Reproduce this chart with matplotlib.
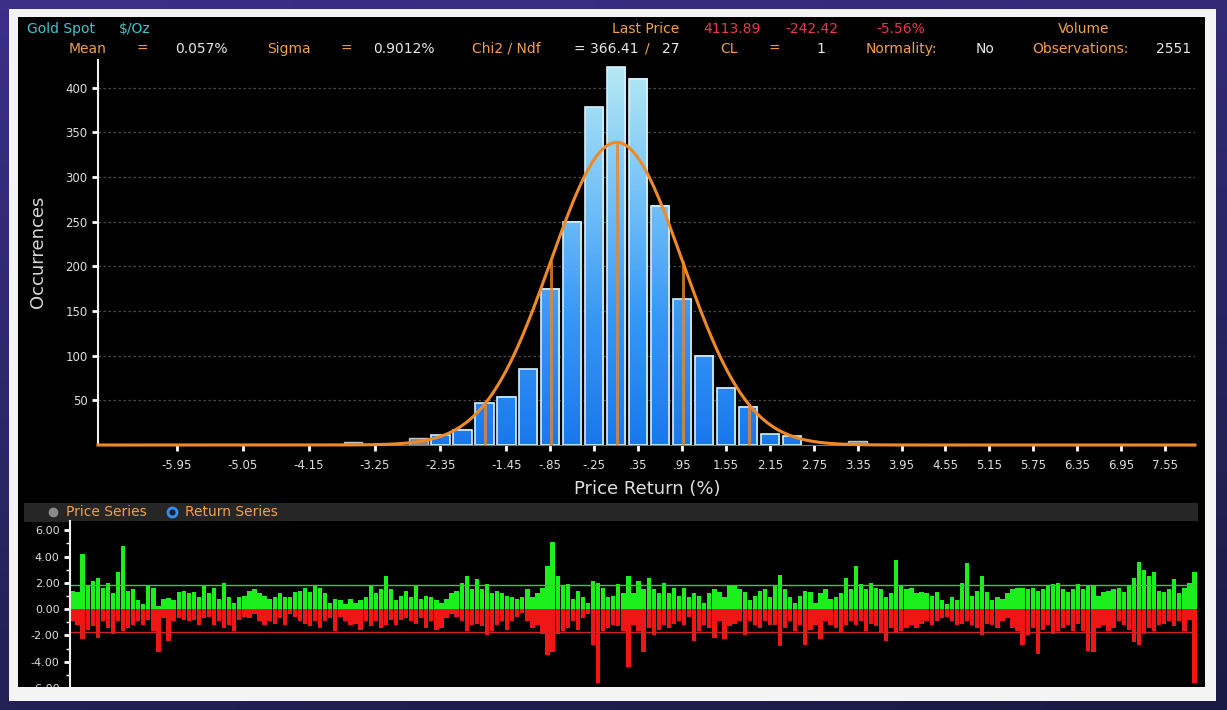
import numpy as np
import matplotlib
matplotlib.use('Agg')
import matplotlib.pyplot as plt
from matplotlib.colors import LinearSegmentedColormap
from matplotlib.patches import Rectangle
from matplotlib.lines import Line2D

# histogram of daily returns, bins 0.3% wide
bin_centers = [-3.55, -3.25, -2.95, -2.65, -2.35, -2.05, -1.75, -1.45, -1.15, -0.85, -0.55, -0.25,
               0.05, 0.35, 0.65, 0.95, 1.25, 1.55, 1.85, 2.15, 2.45, 2.75, 3.05, 3.35]
counts = [3, 0, 0, 8, 11, 17, 47, 54, 85, 175, 250, 378,
          423, 410, 268, 163, 100, 64, 43, 12, 10, 0, 0, 5]
mean_ret = 0.057
sigma_ret = 0.9012
n_obs = 2551
bin_w = 0.3

xtick_vals = [-5.95, -5.05, -4.15, -3.25, -2.35, -1.45, -0.85, -0.25, 0.35, 0.95, 1.55,
              2.15, 2.75, 3.35, 3.95, 4.55, 5.15, 5.75, 6.35, 6.95, 7.55]
xtick_labels = ['-5.95', '-5.05', '-4.15', '-3.25', '-2.35', '-1.45', '-.85', '-.25', '.35', '.95',
                '1.55', '2.15', '2.75', '3.35', '3.95', '4.55', '5.15', '5.75', '6.35', '6.95', '7.55']
ytick_vals = [50, 100, 150, 200, 250, 300, 350, 400]

# return series (daily % moves, read left to right)
ret_up = [1.4, 1.3, 4.2, 1.8, 2.1, 2.4, 1.6, 2.0, 1.2, 2.8,
          4.8, 1.4, 1.5, 0.7, 0.4, 1.8, 1.6, 0.2, 0.8, 0.85,
          0.7, 1.3, 1.4, 1.2, 1.3, 0.9, 1.8, 1.2, 1.6, 0.8,
          2.0, 0.9, 0.5, 0.9, 1.0, 1.4, 1.5, 1.2, 1.0, 0.8,
          0.9, 1.2, 0.9, 0.9, 1.3, 1.4, 1.6, 1.3, 1.8, 1.6,
          1.2, 0.5, 0.8, 0.7, 0.4, 0.8, 0.5, 0.7, 0.9, 1.8,
          1.2, 1.5, 2.5, 1.5, 0.7, 1.0, 1.4, 0.9, 1.8, 0.8,
          1.0, 0.9, 0.7,
          0.5, 0.8, 1.2, 1.4, 2.0, 2.5, 1.5, 2.3, 1.5, 1.9,
          1.2, 1.4, 1.2, 1.0, 0.9, 0.8, 0.9, 1.5, 0.9, 1.2,
          1.6, 3.3, 5.1, 2.5, 1.8, 1.9, 0.8, 1.4, 0.9, 0.5,
          2.1, 2.0, 1.6, 0.9, 1.0, 1.9, 1.2, 2.5, 1.2, 2.1,
          1.5, 2.4, 1.5, 1.2, 2.0, 1.2, 1.6, 1.0, 1.6, 0.9,
          1.2, 1.0, 0.5, 1.2, 1.5, 1.3, 0.9, 1.8, 1.8, 1.5,
          1.3, 0.7, 1.0, 1.4, 1.5, 0.9, 1.8, 2.6, 1.5, 0.9,
          0.5, 1.0, 1.4, 1.3, 0.5,
          1.2, 1.5, 0.8, 0.9, 1.2, 2.4, 1.5, 3.3, 1.9, 1.5,
          2.0, 1.6, 1.5, 0.9, 1.2, 3.7, 1.8, 1.5, 1.6, 1.2,
          1.3, 1.2, 1.0, 1.3, 0.7, 0.4, 0.9, 0.7, 2.0, 3.5,
          1.0, 1.4, 2.5, 1.3, 0.7, 0.9, 0.8, 1.2, 1.5, 1.6,
          1.6, 1.5, 1.6, 1.4, 1.5, 1.8, 1.9, 2.0, 1.5, 1.3,
          1.5, 1.9, 1.5, 1.8, 1.8, 1.0, 1.3, 1.4, 1.5, 1.6,
          1.3, 1.8, 2.4, 3.6, 3.0, 2.5, 2.8, 1.4, 1.3, 1.5,
          2.3, 1.2, 1.6, 2.0, 2.8]
ret_dn = [-0.9, -1.2, -2.3, -1.6, -1.3, -2.2, -0.9, -1.4, -1.9, -0.9,
          -1.7, -1.4, -1.2, -0.9, -1.2, -0.8, -1.7, -3.3, -0.7, -2.4,
          -0.9, -0.7, -0.8, -0.9, -0.8, -1.2, -0.7, -0.6, -1.2, -0.9,
          -1.4, -1.2, -1.7, -0.8, -0.6, -0.7, -0.4, -0.9, -1.2, -0.9,
          -1.1, -0.7, -1.2, -0.4, -0.6, -0.9, -1.1, -1.3, -0.9, -1.4,
          -0.9, -0.7, -1.7, -0.6, -0.9, -1.2, -1.1, -1.6, -0.9, -1.3,
          -0.9, -1.4, -1.2, -0.8, -1.2, -0.8, -0.7, -0.9, -1.1, -0.7,
          -1.4, -0.9, -1.6,
          -1.4, -0.7, -0.4, -0.6, -0.9, -1.7, -1.2, -1.1, -1.3, -2.0,
          -1.7, -1.2, -0.9, -1.6, -0.9, -0.6, -0.3, -0.9, -1.4, -1.2,
          -1.9, -3.5, -3.3, -1.9, -1.7, -1.4, -0.9, -1.6, -0.7, -0.4,
          -2.7, -5.6, -1.7, -1.4, -1.2, -1.3, -1.7, -4.4, -1.2, -1.7,
          -3.3, -1.4, -2.0, -1.6, -1.2, -1.4, -1.1, -0.9, -1.2, -0.6,
          -2.4, -1.7, -1.2, -1.4, -2.2, -0.9, -2.3, -1.3, -1.1, -0.9,
          -2.0, -0.9, -1.2, -1.4, -0.9, -1.2, -1.2, -2.8, -1.4, -0.9,
          -1.7, -1.2, -2.7, -1.6, -1.2,
          -2.3, -0.9, -1.2, -1.4, -1.8, -1.2, -0.9, -1.2, -0.9, -1.7,
          -1.1, -1.3, -1.8, -2.4, -1.4, -1.8, -1.7, -1.4, -1.2, -1.4,
          -1.1, -0.9, -1.2, -0.9, -0.7, -0.6, -0.9, -1.2, -1.1, -0.9,
          -1.2, -1.4, -2.0, -1.1, -1.2, -1.4, -0.9, -0.7, -1.4, -1.7,
          -2.7, -2.0, -1.4, -3.4, -1.6, -1.2, -1.9, -1.7, -1.4, -1.2,
          -1.7, -1.1, -1.7, -3.2, -3.3, -1.4, -1.2, -1.7, -1.4, -0.9,
          -1.2, -1.6, -2.5, -2.7, -1.9, -1.4, -1.7, -1.2, -1.1, -0.9,
          -1.3, -0.9, -1.7, -0.8, -5.6]

W, H = 1227, 710


def fx(px):
    return px / W


def fy(py):
    return 1 - py / H


ORANGE = '#f2a04a'
TEAL = '#3cc6d0'
RED = '#e8384f'
WHITE = '#e8e8e8'

fig = plt.figure(figsize=(W / 100, H / 100), dpi=100, facecolor='#29265e')

# purple backdrop behind the screenshot
bg = fig.add_axes([0, 0, 1, 1], zorder=-5)
bg_cmap = LinearSegmentedColormap.from_list('bgc', ['#1b1a44', '#2a2664', '#3b2f88'])
gy, gx = np.mgrid[0:1:50j, 0:1:50j]
bg.imshow(0.75 * gy + 0.25 * (1 - gx), cmap=bg_cmap, origin='lower', extent=(0, 1, 0, 1),
          aspect='auto', interpolation='bilinear')
bg.axis('off')

# black terminal panel + white frame
fig.patches.append(Rectangle((fx(18), fy(687)), (1205 - 18) / W, (687 - 17) / H,
                             transform=fig.transFigure, facecolor='black', zorder=-2))
for (x0, y0, x1, y1) in [(9, 9, 1216, 17), (9, 687, 1216, 701), (9, 9, 18, 701), (1205, 9, 1216, 701)]:
    fig.patches.append(Rectangle((fx(x0), fy(y1)), (x1 - x0) / W, (y1 - y0) / H,
                                 transform=fig.transFigure, facecolor='#f4f4f4', lw=0, zorder=10))

# header
def hdr(px, py, s, color, ha='left'):
    fig.text(fx(px), fy(py), s, color=color, fontsize=10, ha=ha, va='center')

hdr(27, 29, 'Gold Spot', TEAL)
hdr(119, 29, '$/Oz', TEAL)
hdr(612, 29, 'Last Price', ORANGE)
hdr(703, 29, '4113.89', RED)
hdr(785, 29, '-242.42', RED)
hdr(876, 29, '-5.56%', RED)
hdr(1058, 29, 'Volume', ORANGE)

hdr(69, 49, 'Mean', ORANGE)
hdr(137, 49, '=', ORANGE)
hdr(175, 49, f'{mean_ret:.3f}%', WHITE)
hdr(267, 49, 'Sigma', ORANGE)
hdr(340, 49, '=', ORANGE)
hdr(373, 49, f'{sigma_ret:.4f}%', WHITE)
hdr(472, 49, 'Chi2 / Ndf', ORANGE)
hdr(574, 49, '= 366.41', WHITE)
hdr(645, 49, '/', ORANGE)
hdr(662, 49, '27', WHITE)
hdr(720, 49, 'CL', ORANGE)
hdr(768, 49, '=', ORANGE)
hdr(816, 49, '1', WHITE)
hdr(866, 49, 'Normality:', ORANGE)
hdr(976, 49, 'No', WHITE)
hdr(1032, 49, 'Observations:', ORANGE)
hdr(1156, 49, str(n_obs), WHITE)

# histogram
ax = fig.add_axes([fx(98), fy(445), (1195 - 98) / W, (445 - 60) / H])
ax.set_facecolor('black')
xmin, xmax, ymax = -7.03, 7.96, 431

cmap = LinearSegmentedColormap.from_list('bb', ['#1a78ee', '#3898f6', '#78c4f8', '#b6eaf2'])
bar_w = 0.25
for xc, c in zip(bin_centers, counts):
    if c == 0:
        continue
    if abs(xc - mean_ret) > 3 * sigma_ret:
        ax.bar(xc, c, width=bar_w, color='#858585', edgecolor='#c4c4c4', lw=1, zorder=2)
    else:
        grad = np.linspace(0, c / ymax, 64).reshape(-1, 1)
        ax.imshow(grad, extent=(xc - bar_w / 2, xc + bar_w / 2, 0, c), origin='lower', cmap=cmap,
                  vmin=0, vmax=1, aspect='auto', zorder=2, interpolation='bilinear')
        ax.bar(xc, c, width=bar_w, fill=False, edgecolor='#d4f0ff', lw=1.2, zorder=3)


def normal_fit(x):
    return n_obs * bin_w / (sigma_ret * np.sqrt(2 * np.pi)) * np.exp(-0.5 * ((x - mean_ret) / sigma_ret) ** 2)


xs = np.linspace(xmin, xmax, 800)
ax.plot(xs, normal_fit(xs), color='#f08a26', lw=2.2, zorder=5, clip_on=False)
for k in [-2, -1, 0, 1, 2]:
    xv = mean_ret + k * sigma_ret
    ax.vlines(xv, 0, normal_fit(xv), color='#e8872c', lw=2.2, alpha=0.8, zorder=4)

ax.set_xlim(xmin, xmax)
ax.set_ylim(0, ymax)
ax.set_xticks(xtick_vals)
ax.set_xticklabels(xtick_labels)
ax.set_yticks(ytick_vals)
ax.tick_params(axis='both', colors='white', labelcolor='#dedede', labelsize=8.5,
               length=4, width=2, direction='out')
ax.tick_params(axis='x', pad=6)
ax.yaxis.grid(True, color='#4a4a4a', linestyle=(0, (2, 2)), lw=0.9)
ax.set_axisbelow(True)
for s in ['top', 'right']:
    ax.spines[s].set_visible(False)
ax.spines['left'].set_color('#f0f0f0')
ax.spines['left'].set_linewidth(1.5)
ax.spines['bottom'].set_color('#777777')

fig.text(fx(38), fy(252), 'Occurrences', rotation=90, color='#d8d8d8', fontsize=13,
         ha='center', va='center')
fig.text(fx(647), fy(489), 'Price Return (%)', color='#e0e0e0', fontsize=13,
         ha='center', va='center')

# series selector strip
fig.patches.append(Rectangle((fx(24), fy(522)), (1198 - 24) / W, (522 - 503) / H,
                             transform=fig.transFigure, facecolor='#262626', lw=0, zorder=-1))
fig.add_artist(Line2D([fx(53)], [fy(512)], marker='o', ms=6, color='#8a8a8a', lw=0,
                      transform=fig.transFigure))
fig.text(fx(66), fy(512), 'Price Series', color=ORANGE, fontsize=10, va='center')
fig.add_artist(Line2D([fx(172)], [fy(512)], marker='o', ms=6.5, mfc='#10203c', mec='#3c8ee8',
                      mew=2, lw=0, transform=fig.transFigure))
fig.text(fx(185), fy(512), 'Return Series', color=ORANGE, fontsize=10, va='center')

# return series panel
ax2 = fig.add_axes([fx(70), fy(688), (1197 - 70) / W, (688 - 521) / H])
ax2.set_facecolor('black')
idx = np.arange(len(ret_up))
ax2.bar(idx, ret_up, width=0.85, color='#1cf01c', lw=0)
ax2.bar(idx, ret_dn, width=0.85, color='#f01616', lw=0)
ax2.axhline(mean_ret + 2 * sigma_ret, color='#30d030', lw=1)
ax2.axhline(mean_ret - 2 * sigma_ret, color='#d02424', lw=1)
ax2.set_xlim(-0.5, len(ret_up) - 0.5)
ax2.set_ylim(-6.0, 6.7)
ax2.set_yticks([-6, -4, -2, 0, 2, 4, 6])
ax2.set_yticklabels([f'{v:.2f}' for v in [-6, -4, -2, 0, 2, 4, 6]])
ax2.set_yticks([-5, -3, -1, 1, 3, 5], minor=True)
ax2.set_xticks([])
ax2.tick_params(axis='y', colors='white', labelcolor='#dedede', labelsize=8, length=4, width=2)
ax2.tick_params(axis='y', which='minor', colors='white', length=3, width=1)
for s in ['top', 'right', 'bottom']:
    ax2.spines[s].set_visible(False)
ax2.spines['left'].set_color('#f0f0f0')
ax2.spines['left'].set_linewidth(1.5)

fig.savefig('out.png', dpi=100, facecolor=fig.get_facecolor())
